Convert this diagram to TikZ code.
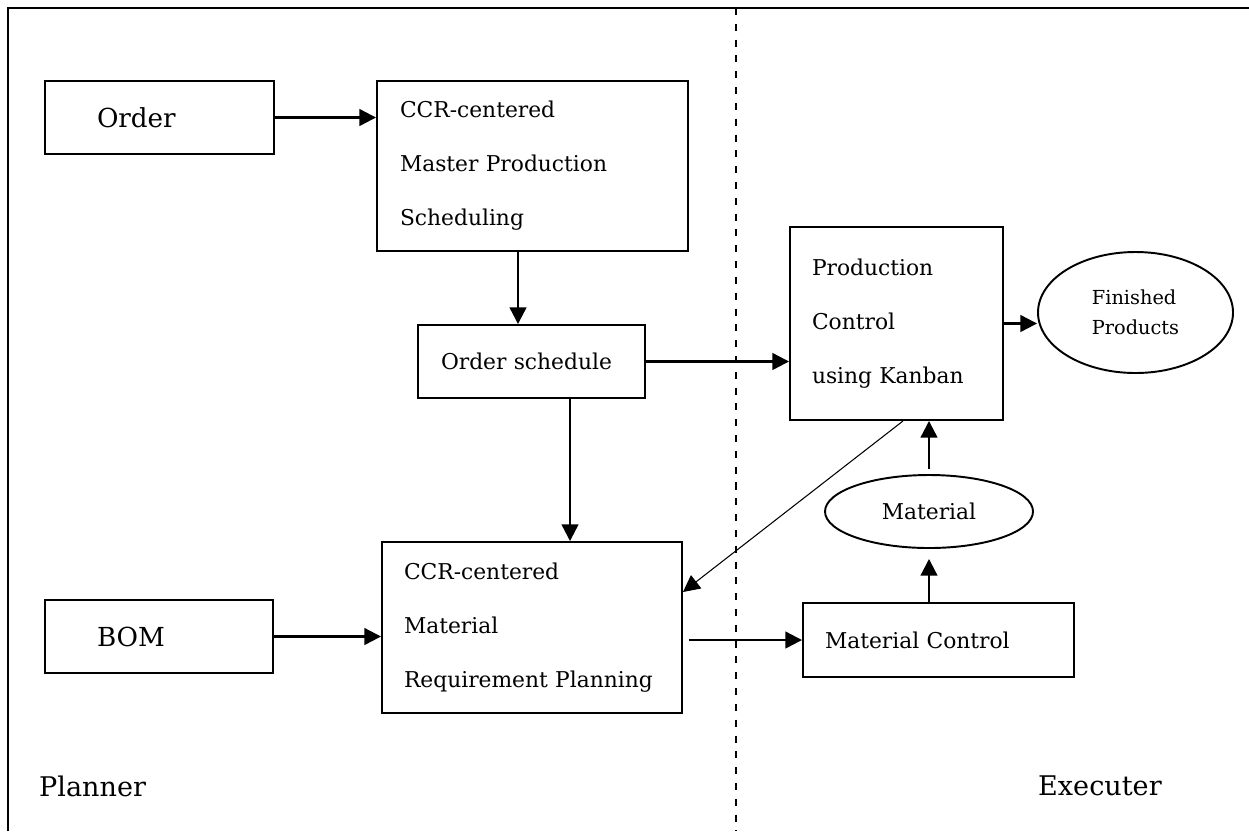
\documentclass[tikz,border=0pt]{standalone}
\usepackage{fontspec}
\setmainfont{DejaVu Serif}
\usetikzlibrary{arrows.meta,shapes.geometric}
\newcommand{\boxfont}{\fontsize{12.4}{30.7}\selectfont}
\tikzset{
	box/.style={draw, line width=1.1pt, rectangle, align=left, inner sep=0pt, font=\boxfont},
	oval/.style={draw, line width=1.1pt, ellipse, align=left, inner sep=0pt},
	arr/.style={line width=1.3pt, -{Triangle[length=9.5pt,width=9.5pt]}},
	thinarr/.style={line width=0.6pt, -{Triangle[length=9.5pt,width=9.5pt]}},
	side/.style={anchor=west, font=\fontsize{15.4}{18}\selectfont}
}
\begin{document}
\begin{tikzpicture}
	\useasboundingbox (0,0) rectangle (24.98,-16.62);
	% frame and divider
	\draw[line width=1.1pt] (0.16,-16.62) -- (0.16,-0.16) -- (24.98,-0.16);
	\draw[line width=0.9pt, dash pattern=on 4pt off 5pt] (14.72,-0.16) -- (14.72,-16.62);
	% planner side
	\node[box, minimum width=4.58cm, minimum height=1.46cm, text width=2.5cm, font=\fontsize{14.9}{18}\selectfont] (order) at (3.19,-2.35) {Order};
	\node[box, minimum width=6.22cm, minimum height=3.4cm, text width=5.3cm] (mps) at (10.65,-3.32) {CCR-centered\\Master Production\\Scheduling};
	\node[box, minimum width=4.54cm, minimum height=1.46cm, text width=3.62cm] (sched) at (10.63,-7.23) {Order schedule};
	\node[box, minimum width=6.0cm, minimum height=3.42cm, text width=5.12cm] (mrp) at (10.64,-12.55) {CCR-centered\\Material\\Requirement Planning};
	\node[box, minimum width=4.56cm, minimum height=1.46cm, text width=2.48cm, font=\fontsize{14.9}{18}\selectfont] (bom) at (3.18,-12.73) {BOM};
	% executer side
	\node[box, minimum width=4.26cm, minimum height=3.86cm, text width=3.38cm] (prod) at (17.93,-6.47) {Production\\Control\\using Kanban};
	\node[oval, minimum width=3.9cm, minimum height=2.42cm, font=\fontsize{11}{17}\selectfont] (fin) at (22.71,-6.25) {Finished\\Products};
	\node[oval, minimum width=4.16cm, minimum height=1.46cm, font=\boxfont] (mat) at (18.58,-10.23) {Material};
	\node[box, minimum width=5.42cm, minimum height=1.48cm, text width=4.54cm] (matctl) at (18.77,-12.8) {Material Control};
	% connectors
	\draw[arr] (order.east) -- (order.east -| mps.west);
	\draw[arr] ([xshift=-0.29cm]mps.south) -- ([xshift=-0.29cm]mps.south |- sched.north);
	\draw[arr] (sched.east) -- (sched.east -| prod.west);
	\draw[arr] ([xshift=0.77cm]sched.south) -- ([xshift=0.77cm]sched.south |- mrp.north);
	\draw[arr] (prod.east) -- (prod.east -| fin.west);
	\draw[arr] (bom.east) -- (bom.east -| mrp.west);
	\draw[thinarr] ([xshift=0.13cm]prod.south) -- ([yshift=0.71cm]mrp.east);
	\draw[arr] ([xshift=0.12cm]mrp.east |- matctl.west) -- (matctl.west);
	\draw[arr] (mat.south |- matctl.north) -- ([yshift=-0.2cm]mat.south);
	\draw[arr] ([yshift=0.1cm]mat.north) -- (mat.north |- prod.south);
	% side labels
	\node[side] (planner) at (0.66,-15.72) {Planner};
	\node[side] (exec) at (20.64,-15.72) {Executer};
\end{tikzpicture}
\end{document}
